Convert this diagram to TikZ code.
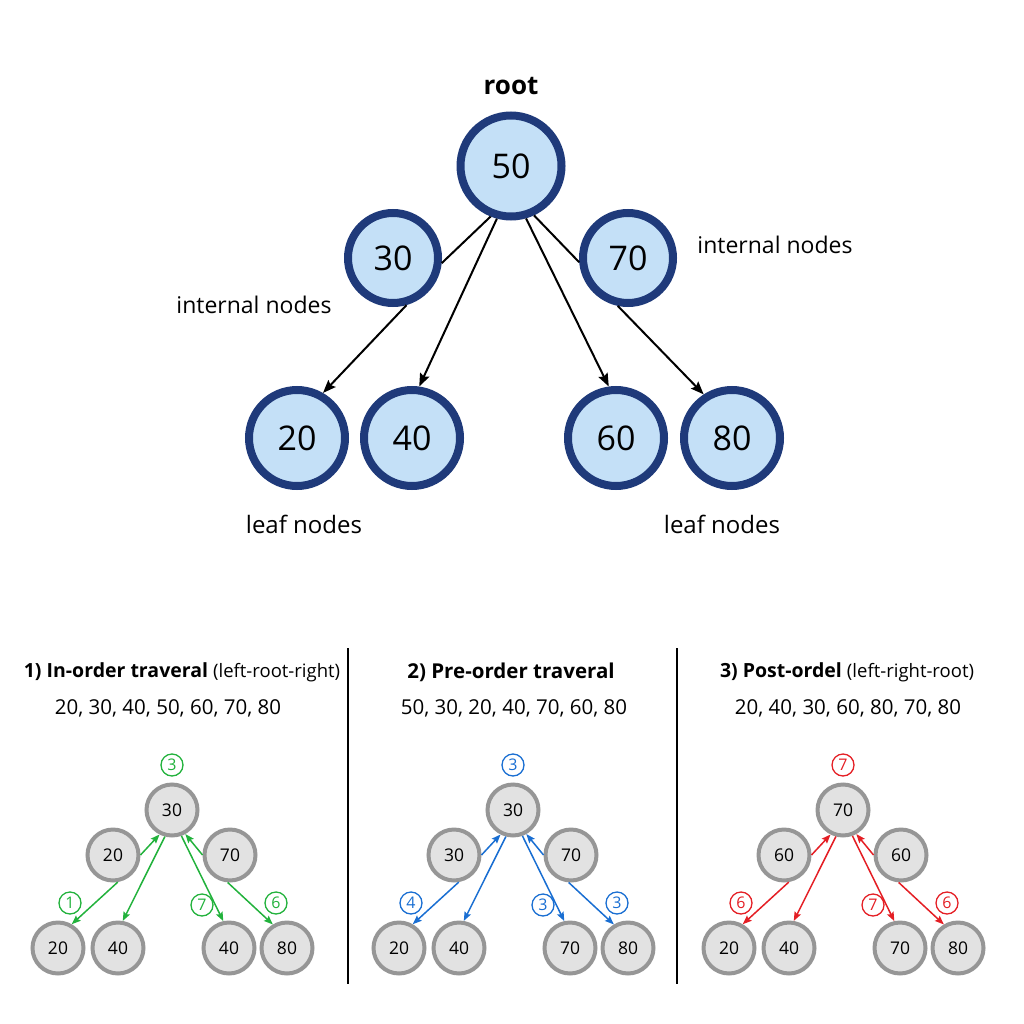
\documentclass[tikz,border=0pt]{standalone}
\usepackage{fontspec}
\setmainfont{Open Sans}
\usetikzlibrary{positioning, calc, arrows.meta}

\definecolor{keyfill}{RGB}{196,224,247}
\definecolor{keyline}{RGB}{31,58,122}
\definecolor{greyfill}{RGB}{226,226,226}
\definecolor{greyline}{RGB}{150,150,150}
\definecolor{ingreen}{RGB}{34,178,60}
\definecolor{preblue}{RGB}{25,110,210}
\definecolor{postred}{RGB}{228,30,36}

\tikzset{
  keynode/.style = {circle, draw=keyline, fill=keyfill, line width=8pt, inner sep=0pt,
                    font=\fontsize{34}{40}\selectfont},
  rootkey/.style = {keynode, minimum size=101pt},
  midkey/.style  = {keynode, minimum size=90pt},
  leafkey/.style = {keynode, minimum size=96pt},
  tag/.style     = {font=\fontsize{23}{28}\selectfont},
  leaftag/.style = {font=\fontsize{24}{28}\selectfont},
  edge/.style    = {line width=2pt, -{Stealth[length=13pt,width=10pt,inset=2pt]}},
  link/.style    = {line width=2pt},
  greynode/.style = {circle, draw=greyline, fill=greyfill, line width=4pt, inner sep=0pt,
                     minimum size=51pt, font=\fontsize{17.5}{20}\selectfont},
  circnum/.style = {circle, draw=#1, text=#1, line width=1.3pt, inner sep=0pt,
                    minimum size=22pt, font=\fontsize{16}{18}\selectfont},
  walk/.style    = {draw=#1, line width=1.5pt, -{Stealth[length=9pt,width=7pt,inset=1.5pt]}}
}

\begin{document}
\begin{tikzpicture}[x=1pt, y=-1pt]
  \useasboundingbox (0,0) rectangle (1024,1024);

  % binary search tree
  \node[font=\bfseries\fontsize{26}{30}\selectfont] (root) at (511,86) {root};
  \node[rootkey] (n50) at (511,166) {50};
  \node[midkey]  (n30) at (393,258) {30};
  \node[midkey]  (n70) at (628,258) {70};
  \node[leafkey] (n20) at (297,438) {20};
  \node[leafkey] (n40) at (412,438) {40};
  \node[leafkey] (n60) at (616,438) {60};
  \node[leafkey] (n80) at (732,438) {80};

  \node[tag] (intl) at (254,305) {internal nodes};
  \node[tag] (intr) at (775,245) {internal nodes};
  \node[leaftag] (leafl) at (304,524) {leaf nodes};
  \node[leaftag] (leafr) at (722,524) {leaf nodes};

  \draw[link] (n50.248) -- (n30.354);
  \draw[edge] (n30.286) -- (n20.60);
  \draw[edge] (n50.255) -- (n40.82);
  \draw[edge] (n50.286) -- (n60.98);
  \draw[link] (n50.295) -- (n70.185);
  \draw[edge] (n70.258) -- (n80.123);

  % traversal panels
  \draw[line width=1.5pt] (348,648) -- (348,984);
  \draw[line width=1.5pt] (677,648) -- (677,984);

  \node[font=\fontsize{19.5}{22}\selectfont] (title1) at (182,672)
    {\textbf{1) In-order traveral} {\fontsize{18.5}{22}\selectfont(left-root-right)}};
  \node[font=\fontsize{20.5}{24}\selectfont] (list1) at (168,708) {20, 30, 40, 50, 60, 70, 80};
  \node[font=\bfseries\fontsize{20.5}{22}\selectfont] (title2) at (511,672) {2) Pre-order traveral};
  \node[font=\fontsize{20.5}{24}\selectfont] (list2) at (514,708) {50, 30, 20, 40, 70, 60, 80};
  \node[font=\fontsize{19.5}{22}\selectfont] (title3) at (847,672)
    {\textbf{3) Post-ordel} {\fontsize{18.5}{22}\selectfont(left-right-root)}};
  \node[font=\fontsize{20.5}{24}\selectfont] (list3) at (848,708) {20, 40, 30, 60, 80, 70, 80};

  \foreach \px/\col/\tp/\ml/\mr/\ba/\bb/\bc/\bd/\ca/\cb/\cc/\cd in
    {172/ingreen/30/20/70/20/40/40/80/3/1/7/6,
     513/preblue/30/30/70/20/40/70/80/3/4/3/3,
     843/postred/70/60/60/20/40/70/80/7/6/7/6}
  {
    \node[greynode] (t\px) at (\px,810) {\tp};
    \node[greynode] (l\px) at (\px-59,855) {\ml};
    \node[greynode] (r\px) at (\px+58,855) {\mr};
    \node[greynode] (a\px) at (\px-114,948) {\ba};
    \node[greynode] (b\px) at (\px-54,948) {\bb};
    \node[greynode] (c\px) at (\px+57,948) {\bc};
    \node[greynode] (d\px) at (\px+115,948) {\bd};

    \node[circnum=\col] (s\px) at (\px,765) {\ca};
    \node[circnum=\col] (u\px) at (\px-102,903) {\cb};
    \node[circnum=\col] (v\px) at (\px+30,905) {\cc};
    \node[circnum=\col] (w\px) at (\px+104,903) {\cd};

    \draw[walk=\col] (l\px.east) -- (t\px.243);
    \draw[walk=\col] (l\px.280) -- (a\px.60);
    \draw[walk=\col] (t\px.255) -- (b\px.80);
    \draw[walk=\col] (t\px.290) -- (c\px.102);
    \draw[walk=\col] (r\px.west) -- (t\px.299);
    \draw[walk=\col] (r\px.265) -- (d\px.121);
  }
\end{tikzpicture}
\end{document}
